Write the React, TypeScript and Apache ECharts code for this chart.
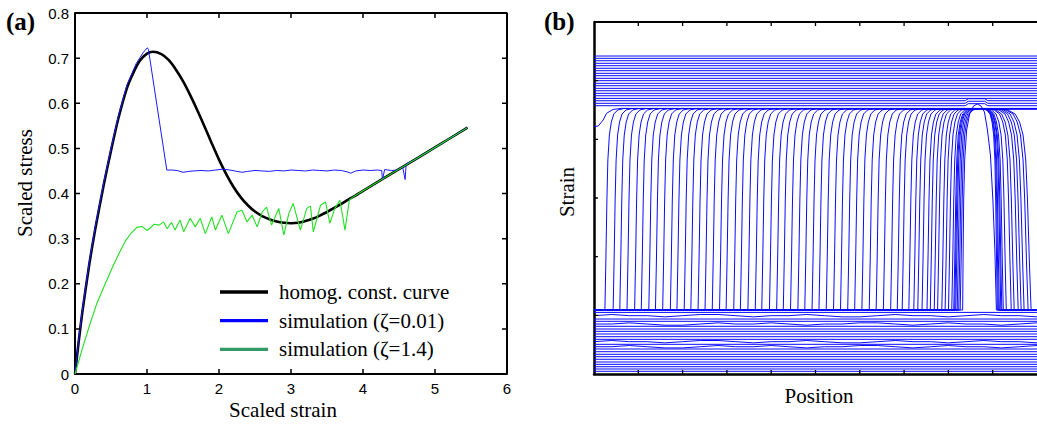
import React, { useEffect, useRef } from "react";
import * as echarts from "echarts";

// ---------------- Panel (a) data ----------------
const homogCurve: [number, number][] = [
  [0, 0], [0.05, 0.07], [0.1, 0.135], [0.2, 0.245], [0.28, 0.32], [0.4, 0.42], [0.5, 0.495],
  [0.6, 0.565], [0.72, 0.633], [0.8, 0.664], [0.9, 0.694], [1.0, 0.71], [1.08, 0.714],
  [1.2, 0.709], [1.3, 0.696], [1.4, 0.675], [1.5, 0.649], [1.6, 0.618], [1.7, 0.584],
  [1.8, 0.548], [1.9, 0.511], [2.0, 0.475], [2.1, 0.443], [2.2, 0.415], [2.3, 0.392],
  [2.4, 0.374], [2.5, 0.36], [2.6, 0.35], [2.7, 0.343], [2.8, 0.338], [2.9, 0.335],
  [3.0, 0.334], [3.1, 0.335], [3.2, 0.339], [3.3, 0.344], [3.4, 0.351], [3.5, 0.359],
  [3.6, 0.368], [3.7, 0.377], [3.8, 0.387], [3.9, 0.396], [4.0, 0.406], [4.5, 0.454],
  [5.0, 0.502], [5.45, 0.546],
];

const simLowZeta: [number, number][] = [
  [0, 0], [0.05, 0.075], [0.1, 0.14], [0.2, 0.25], [0.28, 0.325], [0.4, 0.425], [0.5, 0.5],
  [0.6, 0.57], [0.72, 0.64], [0.85, 0.688], [0.95, 0.713], [1.005, 0.723], [1.02, 0.719],
  [1.275, 0.452], [1.35, 0.452], [1.42, 0.451], [1.5, 0.447], [1.58, 0.449], [1.65, 0.45],
  [1.75, 0.451], [1.85, 0.45], [1.95, 0.452], [2.05, 0.454], [2.15, 0.452], [2.25, 0.449],
  [2.32, 0.447], [2.4, 0.449], [2.5, 0.451], [2.6, 0.45], [2.7, 0.449], [2.8, 0.451],
  [2.9, 0.45], [3.0, 0.452], [3.1, 0.451], [3.2, 0.45], [3.3, 0.452], [3.4, 0.451],
  [3.5, 0.45], [3.6, 0.452], [3.7, 0.451], [3.78, 0.448], [3.83, 0.445], [3.9, 0.45],
  [4.0, 0.452], [4.1, 0.451], [4.2, 0.452], [4.26, 0.451], [4.27, 0.43], [4.3, 0.453],
  [4.4, 0.451], [4.48, 0.452], [4.55, 0.459], [4.585, 0.431], [4.6, 0.466], [4.7, 0.473],
  [5.0, 0.502], [5.45, 0.546],
];

const simHighZeta: [number, number][] = [
  [0, 0], [0.1, 0.055], [0.2, 0.107], [0.3, 0.155], [0.42, 0.2], [0.53, 0.24], [0.62, 0.27],
  [0.7, 0.295], [0.78, 0.312], [0.86, 0.325], [0.93, 0.327], [1.0, 0.318], [1.04, 0.323],
  [1.1, 0.332], [1.17, 0.33], [1.23, 0.337], [1.28, 0.322], [1.34, 0.336], [1.39, 0.319],
  [1.46, 0.341], [1.51, 0.315], [1.6, 0.345], [1.67, 0.326], [1.74, 0.345], [1.81, 0.311],
  [1.9, 0.348], [1.95, 0.319], [2.04, 0.352], [2.13, 0.311], [2.25, 0.359], [2.32, 0.363],
  [2.39, 0.337], [2.46, 0.352], [2.53, 0.326], [2.6, 0.359], [2.66, 0.37], [2.73, 0.33],
  [2.83, 0.367], [2.9, 0.308], [2.97, 0.356], [3.03, 0.378], [3.13, 0.319], [3.22, 0.367],
  [3.27, 0.372], [3.31, 0.315], [3.41, 0.374], [3.48, 0.381], [3.54, 0.334], [3.61, 0.367],
  [3.68, 0.385], [3.75, 0.319], [3.81, 0.385], [3.86, 0.392], [4.0, 0.406], [4.5, 0.454],
  [5.0, 0.502], [5.45, 0.546],
];

const legendLabels = ["homog. const. curve", "simulation (\u03b6=0.01)", "simulation (\u03b6=1.4)"];

// ---------------- Panel (b) data ----------------
const lowStrain = 1.091;
const highStrain = 4.525;
// shape of a band front: [fraction of shoulder width, strain]
const frontShape: [number, number][] = [
  [0, 1.091], [0.052, 1.943], [0.106, 2.966], [0.158, 3.648], [0.238, 4.074],
  [0.341, 4.295], [0.473, 4.432], [0.685, 4.5], [1, 4.525],
];
const leftShoulder = 0.425;

// uniform strain profiles after full transformation
const topLevels = [5.42, 5.381, 5.34, 5.296, 5.255, 5.211, 5.17, 5.125, 5.085, 5.04, 5.0, 4.955,
  4.914, 4.869, 4.828, 4.784, 4.743, 4.698, 4.658, 4.614, 4.573];
const bumpedTopLevels = [4.658, 4.614, 4.573];
const topBumpX = [8.38, 8.45, 8.82, 8.89];
const topBumpHeight = 0.035;

// uniform strain profiles during elastic loading
const bottomLevels = [1.05, 0.994, 0.937, 0.898, 0.852, 0.813, 0.767, 0.727, 0.682, 0.636, 0.591,
  0.551, 0.506, 0.465, 0.426, 0.38, 0.336, 0.295, 0.251, 0.205, 0.165, 0.124, 0.085, 0.046];
const wavyLevelsA = [0.994, 0.551];
const wavyLevelsB = [0.852, 0.465];
const wiggleStep = 0.4;
const wiggleA = [0, 0.02, 0, 0, -0.02, 0, 0.02, 0.02, 0, -0.02, 0, 0, 0.02, 0, -0.02, -0.02, 0, 0.02, 0, 0, -0.02, 0, 0.02, 0, 0, -0.02];
const wiggleB = [0, 0, 0.02, 0, -0.02, -0.02, 0, 0.02, 0, 0, 0.02, 0, -0.02, 0, 0, 0.02, 0.02, 0, -0.02, 0, 0.02, 0, 0, -0.02, 0, 0.02];

// nucleation arch of the second band
const archProfile: [number, number][] = [
  [0, 1.091], [8.322, 1.091], [8.333, 2.114], [8.345, 2.966], [8.367, 3.648], [8.412, 4.159],
  [8.479, 4.432], [8.568, 4.568], [8.651, 4.602], [8.736, 4.568], [8.814, 4.466], [8.881, 4.159],
  [8.949, 3.733], [9.004, 2.966], [9.049, 2.114], [9.083, 1.091], [10, 1.091],
];

// left band-front positions, in time order
const leftFeet = [
  8.266, 8.233, 8.199, 8.166, 8.143, 8.121,
  8.076, 8.002, 7.926, 7.852, 7.756, 7.68, 7.591, 7.517, 7.405, 7.309, 7.219, 7.107, 6.957, 6.846,
  6.696, 6.532, 6.369, 6.213, 6.047, 5.884, 5.727, 5.564, 5.407, 5.242, 5.078, 4.922, 4.758, 4.602,
  4.436, 4.273, 4.123, 3.96, 3.787, 3.64, 3.474, 3.304, 3.154, 2.982, 2.834, 2.669, 2.506, 2.349,
  2.186, 2.036, 1.872, 1.723, 1.55, 1.387, 1.237, 1.067, 0.917, 0.745, 0.582, 0.432, 0.246,
];
// right band-front positions and shoulder widths, in time order
const rightFeet = [9.105, 9.128, 9.15, 9.183, 9.206, 9.239, 9.306, 9.418, 9.485, 9.575, 9.642, 9.709, 9.799, 9.866];
const rightShoulders = [0.35, 0.37, 0.39, 0.41, 0.43, 0.45, 0.49, 0.56, 0.6, 0.63, 0.65, 0.67, 0.72, 0.76];

const finalProfile: [number, number][] = [
  [0, 4.216], [0.096, 4.227], [0.208, 4.33], [0.283, 4.443], [0.43, 4.51], [0.62, 4.527], [10, 4.527],
];

// tick positions
const strainTicksA = [1, 2, 3, 4, 5];
const stressTicksA = [0.1, 0.2, 0.3, 0.4, 0.5, 0.6, 0.7];
const positionTicksB = [1, 2, 3, 4, 5, 6, 7, 8, 9];
const strainTicksB = [1, 2, 3, 4, 5];

function buildProfile(L: number, R?: number, S?: number): [number, number][] {
  const pts: [number, number][] = [[0, lowStrain], [L, lowStrain]];
  frontShape.forEach(([f, s]) => pts.push([L + f * leftShoulder, s]));
  if (R !== undefined && S !== undefined) {
    for (let i = frontShape.length - 1; i >= 0; i--) {
      const [f, s] = frontShape[i];
      pts.push([R - f * S, s]);
    }
    pts.push([10, lowStrain]);
  } else {
    pts.push([10, highStrain]);
  }
  return pts;
}

function wavy(level: number, pattern: number[]): [number, number][] {
  return pattern.map((d, k) => [k * wiggleStep, level + d] as [number, number]);
}

const BLUE = "#0a0aff";
const serif = '"Liberation Serif", "DejaVu Serif", serif';

export default function App() {
  const ref = useRef<HTMLDivElement>(null);
  useEffect(() => {
    if (!ref.current) return;
    const chart = echarts.init(ref.current, null, { renderer: "svg" });

    const bSeries: any[] = [];
    const addB = (data: [number, number][]) =>
      bSeries.push({
        type: "line", xAxisIndex: 1, yAxisIndex: 1, data, showSymbol: false, symbol: "none",
        silent: true, lineStyle: { color: BLUE, width: 1 },
      });

    bottomLevels.forEach((v) => {
      if (wavyLevelsA.includes(v)) addB(wavy(v, wiggleA));
      else if (wavyLevelsB.includes(v)) addB(wavy(v, wiggleB));
      else addB([[0, v], [10, v]]);
    });
    topLevels.forEach((v) => {
      if (bumpedTopLevels.includes(v)) {
        addB([[0, v], [topBumpX[0], v], [topBumpX[1], v + topBumpHeight], [topBumpX[2], v + topBumpHeight], [topBumpX[3], v], [10, v]]);
      } else addB([[0, v], [10, v]]);
    });
    addB(archProfile);
    leftFeet.forEach((L, i) => {
      if (i < rightFeet.length) addB(buildProfile(L, rightFeet[i], rightShoulders[i]));
      else addB(buildProfile(L));
    });
    addB(finalProfile);

    // frame edges and tick marks as line series through the axes' scales
    const segSeries = (xi: number, yi: number, data: any[], width: number) => ({
      type: "line", xAxisIndex: xi, yAxisIndex: yi, data, showSymbol: false, symbol: "none",
      silent: true, clip: false, connectNulls: false, z: 10,
      lineStyle: { color: "#000", width },
    });
    const tx = 5 / 432 * 6, ty = 5 / 361 * 0.8;
    const ticksA: any[] = [];
    strainTicksA.forEach((t) => { ticksA.push([t, 0], [t, ty], "-", [t, 0.8], [t, 0.8 - ty], "-"); });
    stressTicksA.forEach((t) => { ticksA.push([0, t], [tx, t], "-", [6, t], [6 - tx, t], "-"); });
    const frameA: any[] = [[0, 0.8], [6, 0.8], [6, 0]];
    const tbx = 4 / 447 * 10, tby = 4 / 352 * 6;
    const ticksB: any[] = [];
    positionTicksB.forEach((t) => { ticksB.push([t, 0], [t, tby], "-", [t, 6], [t, 6 - tby], "-"); });
    strainTicksB.forEach((t) => { ticksB.push([0, t], [tbx, t], "-"); });
    const frameB: any[] = [[0, 6], [10, 6]];

    const labelStyle = { color: "#000", fontFamily: '"Liberation Sans", Arial, sans-serif', fontSize: 15 };
    const noLine = { show: false };

    const option: any = {
      animation: false,
      grid: [
        { left: 75, top: 13, width: 432, height: 361, show: false },
        { left: 594, top: 22, width: 447, height: 352, show: false },
      ],
      xAxis: [
        { type: "value", gridIndex: 0, min: 0, max: 6, interval: 1, position: "bottom",
          axisLine: { show: true, onZero: false, lineStyle: { color: "#000", width: 2 } },
          axisTick: noLine, splitLine: noLine, axisLabel: { ...labelStyle, margin: 7 } },
        { type: "value", gridIndex: 1, min: 0, max: 10, interval: 1, position: "bottom",
          axisLine: { show: true, onZero: false, lineStyle: { color: "#000", width: 2.5 } },
          axisTick: noLine, splitLine: noLine, axisLabel: { show: false } },
      ],
      yAxis: [
        { type: "value", gridIndex: 0, min: 0, max: 0.8, interval: 0.1, position: "left",
          axisLine: { show: true, onZero: false, lineStyle: { color: "#000", width: 2 } },
          axisTick: noLine, splitLine: noLine, axisLabel: { ...labelStyle, margin: 6 } },
        { type: "value", gridIndex: 1, min: 0, max: 6, interval: 1, position: "left",
          axisLine: { show: true, onZero: false, lineStyle: { color: "#000", width: 2.5 } },
          axisTick: noLine, splitLine: noLine, axisLabel: { show: false } },
      ],
      series: [
        { type: "line", xAxisIndex: 0, yAxisIndex: 0, data: homogCurve, smooth: 0.2, showSymbol: false,
          symbol: "none", lineStyle: { color: "#000", width: 2.6 }, z: 2 },
        { type: "line", xAxisIndex: 0, yAxisIndex: 0, data: simLowZeta, showSymbol: false, symbol: "none",
          lineStyle: { color: "#1a1aff", width: 1 }, z: 3 },
        { type: "line", xAxisIndex: 0, yAxisIndex: 0, data: simHighZeta, showSymbol: false, symbol: "none",
          lineStyle: { color: "#22e022", width: 1.1 }, z: 4 },
        ...bSeries,
        segSeries(0, 0, frameA, 2),
        segSeries(0, 0, ticksA, 1.5),
        segSeries(1, 1, frameB, 1.8),
        segSeries(1, 1, ticksB, 1.3),
      ],
      graphic: [
        { type: "text", x: 6, y: 21, style: { text: "(a)", font: `bold 25px ${serif}`, fill: "#000", textAlign: "left", textVerticalAlign: "middle", align: "left", verticalAlign: "middle" } },
        { type: "text", x: 544, y: 21, style: { text: "(b)", font: `bold 25px ${serif}`, fill: "#000", textAlign: "left", textVerticalAlign: "middle", align: "left", verticalAlign: "middle" } },
        { type: "text", x: 283, y: 410, style: { text: "Scaled strain", font: `21px ${serif}`, fill: "#000", textAlign: "center", textVerticalAlign: "middle", align: "center", verticalAlign: "middle" } },
        { type: "text", x: 25, y: 183, rotation: Math.PI / 2, style: { text: "Scaled stress", font: `21px ${serif}`, fill: "#000", textAlign: "center", textVerticalAlign: "middle", align: "center", verticalAlign: "middle" } },
        { type: "text", x: 819, y: 396, style: { text: "Position", font: `21px ${serif}`, fill: "#000", textAlign: "center", textVerticalAlign: "middle", align: "center", verticalAlign: "middle" } },
        { type: "text", x: 567, y: 192, rotation: Math.PI / 2, style: { text: "Strain", font: `21px ${serif}`, fill: "#000", textAlign: "center", textVerticalAlign: "middle", align: "center", verticalAlign: "middle" } },
        ...legendLabels.flatMap((label, i) => {
          const y = 292 + i * 28.7;
          const color = ["#000000", "#0000ff", "#339966"][i];
          return [
            { type: "line", shape: { x1: 220, y1: y, x2: 268, y2: y }, style: { stroke: color, lineWidth: 3.3 } },
            { type: "text", x: 279, y, style: { text: label, font: `21px ${serif}`, fill: "#000", textAlign: "left", textVerticalAlign: "middle", align: "left", verticalAlign: "middle" } },
          ];
        }),
      ],
    };
    chart.setOption(option);
    return () => chart.dispose();
  }, []);
  return <div ref={ref} style={{ position: "absolute", left: 0, top: 0, width: 1037, height: 425, background: "#fff" }} />;
}
